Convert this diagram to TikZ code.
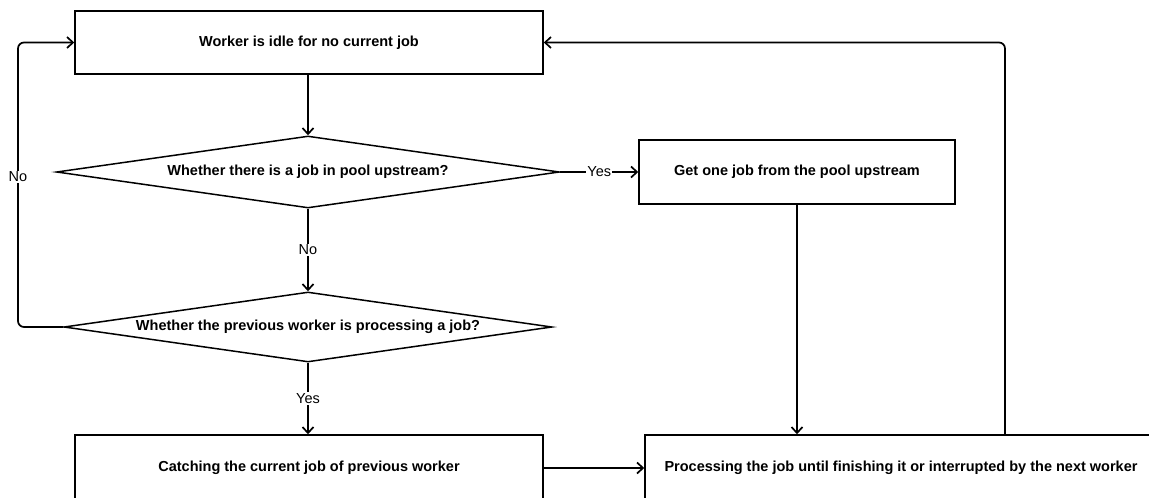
\documentclass[tikz,border=0pt]{standalone}
\usepackage{fontspec}
\setmainfont{Liberation Sans}
\usetikzlibrary{shapes.geometric,arrows.meta}
\begin{document}
\begin{tikzpicture}[x=1pt,y=-1pt,
  every node/.style={font=\fontsize{14.5}{16}\selectfont},
  stepbox/.style={draw, line width=1.5pt, inner sep=0pt, fill=white,
    font=\bfseries\fontsize{14.5}{16}\selectfont},
  decision/.style={diamond, draw, line width=1.5pt, inner sep=0pt, aspect=7,
    font=\bfseries\fontsize{14.5}{16}\selectfont},
  flow/.style={line width=1.7pt, -{Straight Barb[length=6pt,width=11pt,line width=1.7pt]}},
  lbl/.style={fill=white, inner sep=1pt}]
\useasboundingbox (0,0) rectangle (1149,498);
\clip (0,0) rectangle (1149,498);

% process steps
\node[stepbox, minimum width=468pt, minimum height=63pt] (idle) at (309,42.5) {Worker is idle for no current job};
\node[stepbox, minimum width=316pt, minimum height=64pt] (get) at (797,172) {Get one job from the pool upstream};
\node[stepbox, minimum width=468pt, minimum height=66pt] (catch) at (309,468) {Catching the current job of previous worker};
\node[stepbox, minimum width=512pt, minimum height=66pt] (proc) at (901,468) {Processing the job until finishing it or interrupted by the next worker};

% decisions
\node[decision, minimum width=503pt, minimum height=72pt] (pool) at (308,172) {Whether there is a job in pool upstream?};
\node[decision, minimum width=488pt, minimum height=70pt] (prev) at (308,327) {Whether the previous worker is processing a job?};

% connectors
\coordinate (loopL) at (18,0);
\coordinate (loopR) at (1005,0);
\draw[flow] (idle.south -| pool.north) -- (pool.north);
\draw[flow] (pool.east) -- node[lbl] {Yes} (get.west);
\draw[flow] (pool.south) -- node[lbl] {No} (prev.north);
\draw[flow] (prev.south) -- node[lbl] {Yes} (catch.north -| prev.south);
\draw[flow] (catch.east) -- (proc.west);
\draw[flow] (get.south) -- (proc.north -| get.south);
\draw[flow, rounded corners=6pt] (prev.west) -| (loopL |- idle.west) -- (idle.west);
\node[lbl] (no2) at (18,177) {No};
\draw[flow, rounded corners=6pt] (proc.north -| loopR) |- (idle.east);
\end{tikzpicture}
\end{document}
